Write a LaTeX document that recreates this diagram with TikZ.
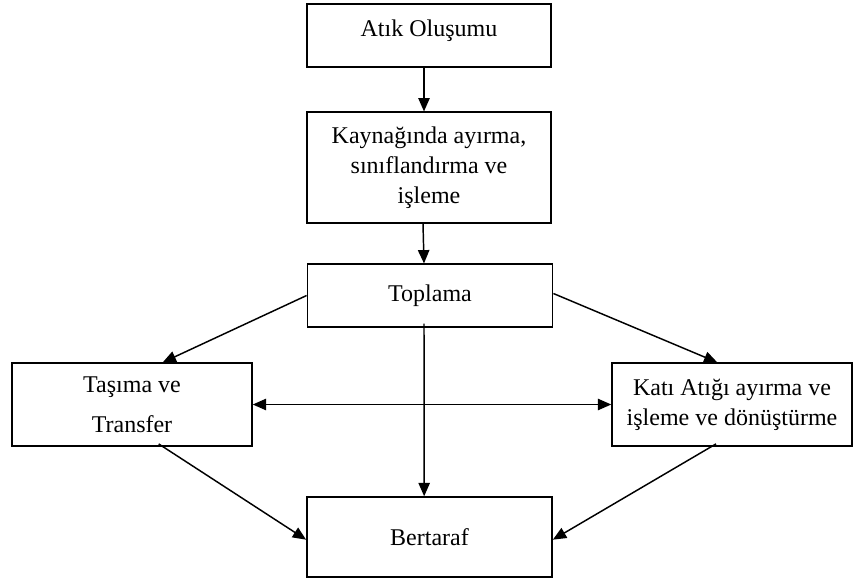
\documentclass[tikz,border=0pt]{standalone}
\usepackage{fontspec}
\setmainfont{Liberation Serif}
\usetikzlibrary{positioning, arrows.meta, calc}

\tikzset{
	flowbox/.style={draw, line width=1.1pt, align=center, inner sep=0.75pt,
		font=\fontsize{18}{22.5}\selectfont},
	flowarrow/.style={line width=1.1pt, -{Triangle[length=10pt,width=8.5pt]}},
	twoarrow/.style={line width=1.1pt, {Triangle[length=10pt,width=8.5pt]}-{Triangle[length=10pt,width=8.5pt]}}
}

\begin{document}
\begin{tikzpicture}[x=0.75pt,y=0.75pt,yscale=-1,xscale=1]
	%set diagram left start at 0, and has height of 581
	\useasboundingbox (0,0) rectangle (860,581);
	
	%Shape: Rectangle [atik]
	\node [flowbox, minimum width=183pt, minimum height=47pt] (atik) at (429,35.5) {};
	\node [font=\fontsize{18}{22.5}\selectfont] (atiktext) at (429,31) {Atık Oluşumu};
	%Shape: Rectangle [kaynak]
	\node [flowbox, minimum width=183pt, minimum height=83pt] (kaynak) at (429,167.5) {Kaynağında ayırma,\\sınıflandırma ve\\işleme};
	%Shape: Rectangle [toplama]
	\node [flowbox, minimum width=184pt, minimum height=47pt] (toplama) at (430,295.5) {Toplama};
	%Shape: Rectangle [tasima]
	\node [flowbox, minimum width=180pt, minimum height=62pt] (tasima) at (132,404.5) {Taşıma ve\\[7.5pt]Transfer};
	%Shape: Rectangle [kati]
	\node [flowbox, minimum width=180pt, minimum height=62pt] (kati) at (732,404.5) {Katı Atığı ayırma ve\\işleme ve dönüştürme};
	%Shape: Rectangle [bertaraf]
	\node [flowbox, minimum width=184pt, minimum height=60pt] (bertaraf) at (429.5,537) {Bertaraf};
	
	%Straight Lines
	\draw [flowarrow] ([xshift=-3.75pt]atik.south) -- ([xshift=-3.75pt]kaynak.north);
	\draw [flowarrow] ([xshift=-4.5pt]kaynak.south) -- ([xshift=-4.5pt]toplama.north);
	%Straight Lines
	\draw [flowarrow] (toplama.west) -- ([xshift=23pt]tasima.north);
	\draw [flowarrow] ([yshift=-1.5pt]toplama.east) -- ([xshift=-11pt]kati.north);
	%Straight Lines
	\draw [twoarrow] (tasima.east) -- (kati.west);
	%Straight Lines
	\draw [flowarrow] ([xshift=-4.5pt,yshift=-3pt]toplama.south) -- ([xshift=-4pt]bertaraf.north);
	\draw [flowarrow] ([xshift=20pt,yshift=-2pt]tasima.south) -- ([yshift=2pt]bertaraf.west);
	\draw [flowarrow] ([xshift=-12pt,yshift=-2pt]kati.south) -- ([yshift=2pt]bertaraf.east);
\end{tikzpicture}
\end{document}
